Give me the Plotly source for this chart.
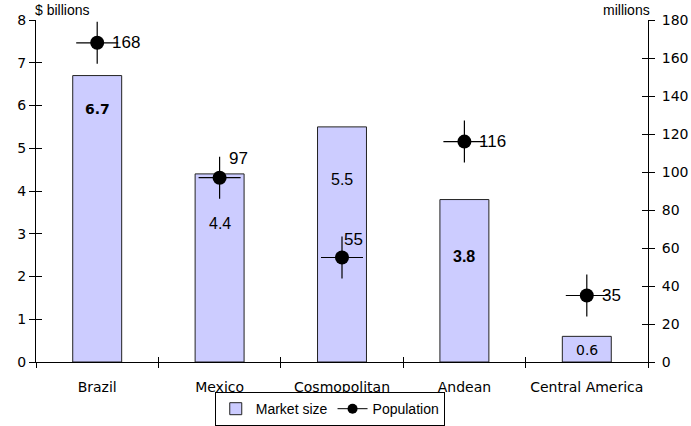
import plotly.graph_objects as go

# Market data by region
regions = ["Brazil", "Mexico", "Cosmopolitan", "Andean", "Central America"]
market_size = [6.7, 4.4, 5.5, 3.8, 0.6]      # $ billions
population = [168, 97, 55, 116, 35]          # millions

# Where each bar's value label sits (in $ billions) and how each population label is offset (px)
bar_label_y = [5.92, 3.23, 4.26, 2.46, 0.28]
pop_label_shift = [(13, 0), (7, 19), (0, 18), (13, 0), (13, 0)]

x_pos = list(range(len(regions)))
bounds = [i - 0.5 for i in range(len(regions) + 1)]

fig = go.Figure()

fig.add_trace(go.Bar(
    x=x_pos, y=market_size, name="Market size", width=0.4,
    marker=dict(color="#CCCCFF", line=dict(color="#222222", width=1)),
    hoverinfo="skip",
))

# population markers: a thin cross behind a filled dot
fig.add_trace(go.Scatter(
    x=x_pos, y=population, yaxis="y2", mode="markers", showlegend=False,
    marker=dict(symbol="cross-thin-open", size=30, color="black",
                line=dict(color="black", width=1.2)),
    hoverinfo="skip",
))
fig.add_trace(go.Scatter(
    x=x_pos, y=population, yaxis="y2", mode="markers", showlegend=False,
    marker=dict(symbol="circle", size=14, color="black"),
    hoverinfo="skip",
))
# legend entry for population
fig.add_trace(go.Scatter(
    x=[None], y=[None], yaxis="y2", mode="lines+markers", name="Population",
    line=dict(color="black", width=1), marker=dict(symbol="circle", size=10, color="black"),
))

# helper traces so the extra tick axes are drawn
for xa, ya in [("x2", "y"), ("x3", "y"), ("x", "y3"), ("x", "y4")]:
    fig.add_trace(go.Scatter(x=[None], y=[None], xaxis=xa, yaxis=ya,
                             showlegend=False, hoverinfo="skip"))

tick_font = dict(family="DejaVu Sans", size=14, color="black")
xr = [-0.5, len(regions) - 0.5]

fig.update_layout(
    width=691, height=426,
    margin=dict(l=36, r=43, t=20, b=64, autoexpand=False),
    paper_bgcolor="white", plot_bgcolor="white",
    showlegend=True,
    legend=dict(orientation="h", x=0.48, xanchor="center", y=-0.088, yanchor="top",
                bordercolor="black", borderwidth=1, bgcolor="white",
                font=dict(family="Liberation Sans", size=14, color="black"),
                tracegroupgap=0, itemwidth=30),
    bargap=0.6,
    xaxis=dict(range=xr, tickvals=x_pos, ticktext=regions, ticks="",
               showline=True, linecolor="black", linewidth=1, showgrid=False,
               zeroline=False, tickfont=tick_font, ticklabelstandoff=12),
    xaxis2=dict(range=xr, overlaying="x", anchor="y", side="bottom", tickvals=bounds,
                ticks="outside", ticklen=5, tickcolor="black", showticklabels=False,
                showline=False, showgrid=False, zeroline=False),
    xaxis3=dict(range=xr, overlaying="x", anchor="y", side="bottom", tickvals=bounds,
                ticks="inside", ticklen=5, tickcolor="black", showticklabels=False,
                showline=False, showgrid=False, zeroline=False),
    yaxis=dict(range=[0, 8], dtick=1, ticks="outside", ticklen=6, tickcolor="black",
               showline=True, linecolor="black", linewidth=1, showgrid=False,
               zeroline=False, tickfont=tick_font),
    yaxis2=dict(range=[0, 180], dtick=20, overlaying="y", side="right", anchor="x",
                ticks="outside", ticklen=6, tickcolor="black",
                showline=True, linecolor="black", linewidth=1, showgrid=False,
                zeroline=False, tickfont=tick_font, ticklabelstandoff=4),
    yaxis3=dict(range=[0, 8], dtick=1, overlaying="y", side="left", anchor="x",
                ticks="inside", ticklen=6, tickcolor="black", showticklabels=False,
                showline=False, showgrid=False, zeroline=False),
    yaxis4=dict(range=[0, 180], dtick=20, overlaying="y", side="right", anchor="x",
                ticks="inside", ticklen=6, tickcolor="black", showticklabels=False,
                showline=False, showgrid=False, zeroline=False),
)

annotations = [
    dict(text="$ billions", xref="paper", yref="paper", x=-0.005, y=1.0, xanchor="left",
         yanchor="bottom", showarrow=False,
         font=dict(family="Liberation Sans", size=14, color="black")),
    dict(text="millions", xref="paper", yref="paper", x=1.007, y=1.0, xanchor="right",
         yanchor="bottom", showarrow=False,
         font=dict(family="Liberation Sans", size=14, color="black")),
]

bar_fonts = [
    dict(family="DejaVu Sans", size=14, color="black", weight="bold"),
    dict(family="Liberation Sans", size=16, color="black"),
    dict(family="Liberation Sans", size=16, color="black"),
    dict(family="Liberation Sans", size=16, color="black", weight="bold"),
    dict(family="DejaVu Sans", size=14, color="black"),
]
for i, v in enumerate(market_size):
    annotations.append(dict(text=f"{v:.1f}", x=x_pos[i], y=bar_label_y[i], xref="x", yref="y",
                            showarrow=False, font=bar_fonts[i]))

for i, p in enumerate(population):
    dx, dy = pop_label_shift[i]
    annotations.append(dict(text=str(p), x=x_pos[i], y=p, xref="x", yref="y2",
                            xanchor="left", yanchor="middle", xshift=dx, yshift=dy,
                            showarrow=False,
                            font=dict(family="Liberation Sans", size=17, color="black")))

fig.update_layout(annotations=annotations)

fig.write_html("out.html")
